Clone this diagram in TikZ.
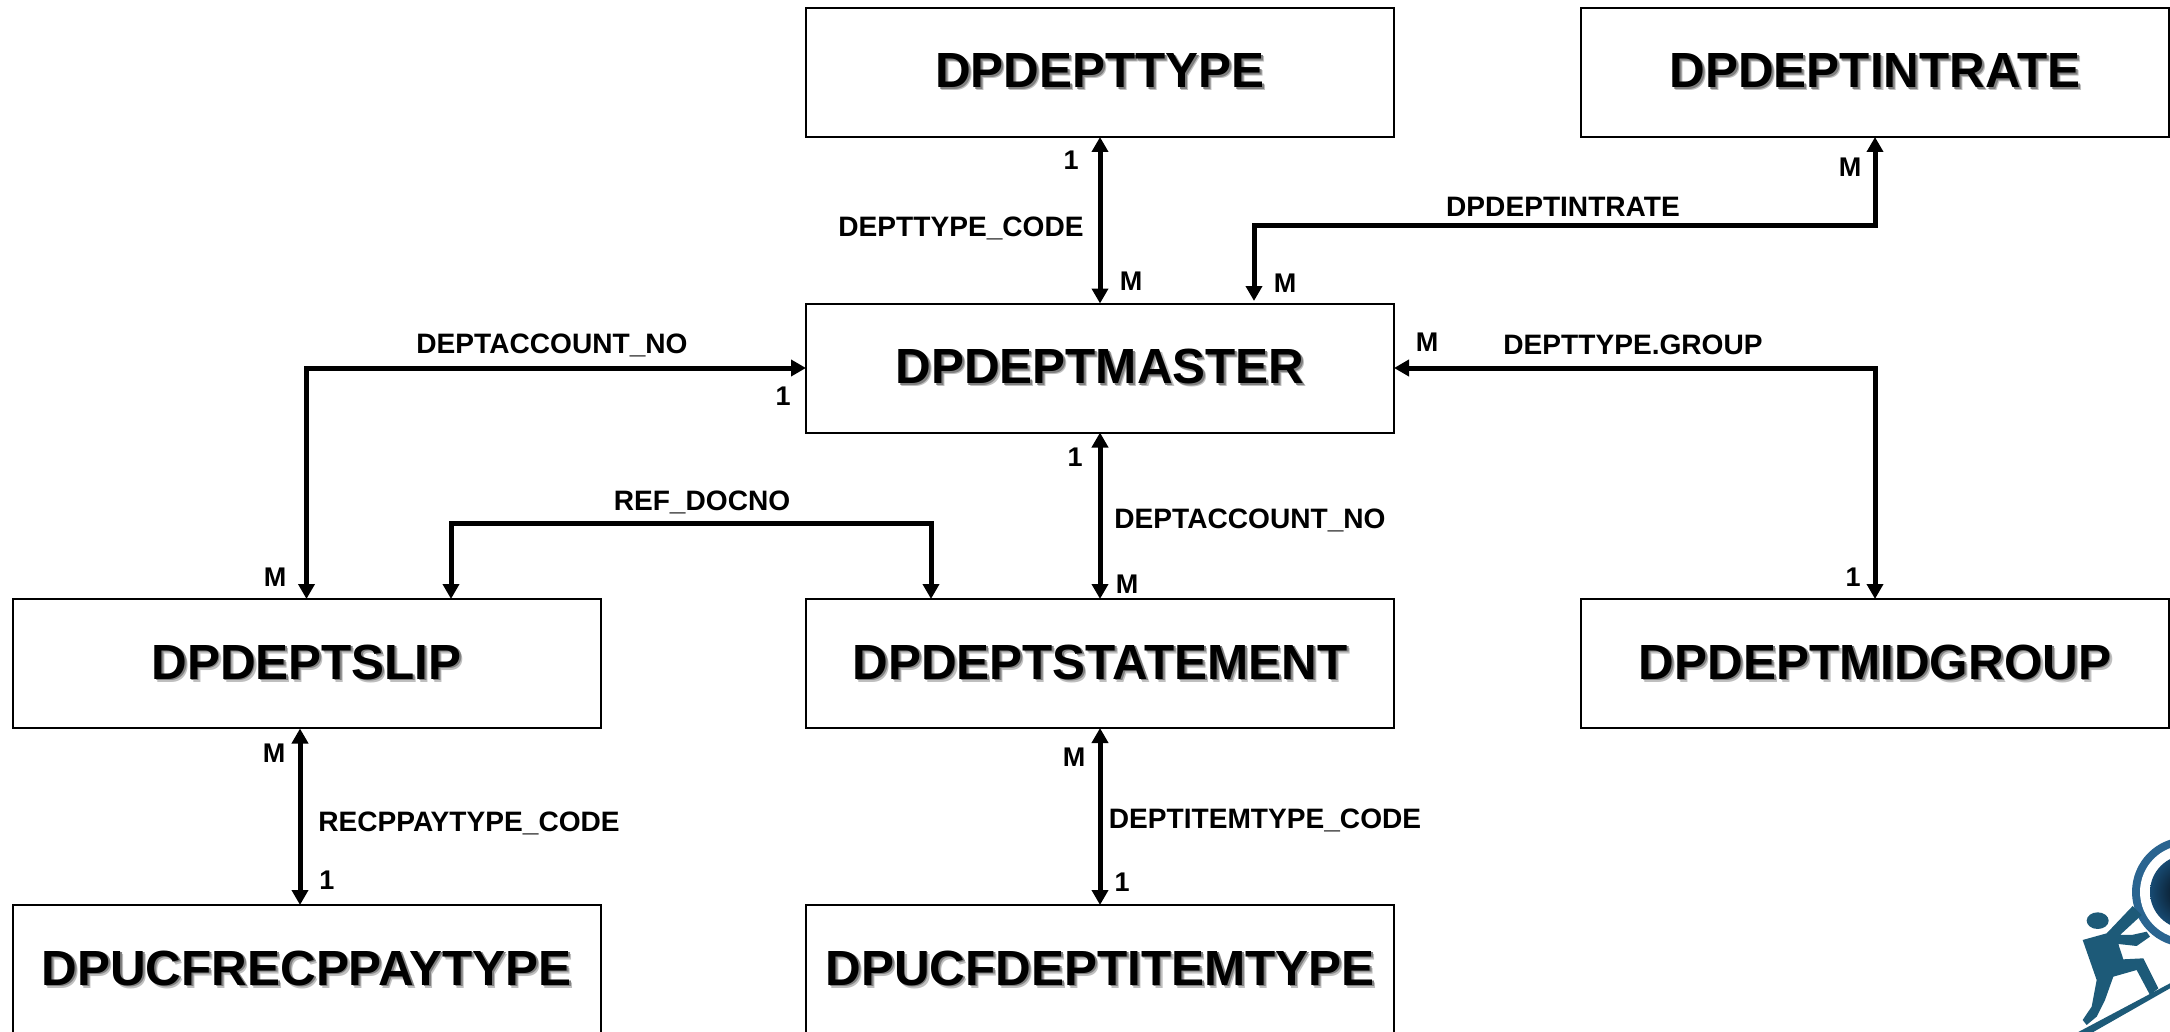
\documentclass[tikz,border=0pt]{standalone}
\usepackage{fontspec}
\setmainfont{Liberation Sans}
\usetikzlibrary{arrows.meta,shadings}
\definecolor{manblue}{HTML}{1D5A78}
\definecolor{ringblue}{HTML}{2A6490}
\definecolor{discdark}{HTML}{03070D}
\definecolor{discblue}{HTML}{174A72}
\newcommand{\shtext}[1]{\raisebox{-2.4pt}{\makebox[0pt][l]{\hspace{3pt}\raisebox{-3pt}{\textcolor{black!25}{#1}}}\makebox[0pt][l]{\hspace{1.8pt}\raisebox{-1.8pt}{\textcolor{black!50}{#1}}}#1}}
\tikzset{
  tbl/.style={draw=black,line width=2pt,fill=white,minimum width=588pt,minimum height=129pt,inner sep=0pt,outer sep=0pt,font=\fontsize{49.4}{50}\bfseries\selectfont},
  lbl/.style={inner sep=0pt,font=\fontsize{28.1}{28}\bfseries\selectfont},
  card/.style={inner sep=0pt,font=\fontsize{27}{27}\bfseries\selectfont},
  both/.style={line width=5pt,{Triangle[length=15pt,width=16pt]}-{Triangle[length=15pt,width=16pt]}},
}
\begin{document}
\begin{tikzpicture}[x=1pt,y=-1pt]
\useasboundingbox (0,0) rectangle (2170,1032);
\node[tbl] (type) at (1100,72.5) {\shtext{DPDEPTTYPE}};
\node[tbl] (intrate) at (1875,72.5) {\shtext{DPDEPTINTRATE}};
\node[tbl] (master) at (1100,368) {\shtext{DPDEPTMASTER}};
\node[tbl] (slip) at (306.5,663.5) {\shtext{DPDEPTSLIP}};
\node[tbl] (stmt) at (1100,663.5) {\shtext{DPDEPTSTATEMENT}};
\node[tbl] (midgroup) at (1875,663.5) {\shtext{DPDEPTMIDGROUP}};
\begin{scope}
\clip (0,0) rectangle (2170,1032);
\node[tbl] (recp) at (306.5,969.5) {\shtext{DPUCFRECPPAYTYPE}};
\node[tbl] (item) at (1100,969.5) {\shtext{DPUCFDEPTITEMTYPE}};
\end{scope}
% named free ends
\coordinate (ki) at (1254,226);
\coordinate (kit) at (1254,301);
\coordinate (rl) at (451,523);
\coordinate (rr) at (931,523);
\coordinate (rlb) at (451,599);
\coordinate (rrb) at (931,599);
\coordinate (srtop) at (300,728.5);
\coordinate (srbot) at (300,905);
\draw[both] (type.south) -- (master.north);
\draw[both] (master.south) -- (stmt.north);
\draw[both] (stmt.south) -- (item.north);
\draw[both] (srtop) -- (srbot);
\draw[both,line join=miter] (kit) -- (ki) -| (intrate.south);
\draw[both,line join=miter] (slip.north) |- (master.west);
\draw[both,line join=miter] (midgroup.north) |- (master.east);
\draw[both,line join=miter] (rlb) -- (rl) -- (rr) -- (rrb);
% labels
\node[lbl] (l1) at (961,228.5) {DEPTTYPE\_CODE};
\node[lbl] (l2) at (1563,207) {DPDEPTINTRATE};
\node[lbl] (l3) at (552,345) {DEPTACCOUNT\_NO};
\node[lbl] (l4) at (1633,345) {DEPTTYPE.GROUP};
\node[lbl] (l5) at (1250,520.5) {DEPTACCOUNT\_NO};
\node[lbl] (l6) at (702,502) {REF\_DOCNO};
\node[lbl] (l7) at (469,823) {RECPPAYTYPE\_CODE};
\node[lbl] (l8) at (1265,820) {DEPTITEMTYPE\_CODE};
\node[card] (c1) at (1071,160) {1};
\node[card] (c2) at (1131,281) {M};
\node[card] (c3) at (1285,283) {M};
\node[card] (c4) at (1850,167) {M};
\node[card] (c5) at (783,396) {1};
\node[card] (c6) at (1427,342) {M};
\node[card] (c7) at (1075,457) {1};
\node[card] (c8) at (275,577) {M};
\node[card] (c9) at (1127,584) {M};
\node[card] (c10) at (1853,577) {1};
\node[card] (c11) at (274,753) {M};
\node[card] (c12) at (327,880) {1};
\node[card] (c13) at (1074,757) {M};
\node[card] (c14) at (1122,882) {1};
% logo
\begin{scope}
\clip (1950,820) rectangle (2170,1032);
\fill[ringblue] (2187,892) circle (55);
\fill[white] (2187,892) circle (47);
\shade[inner color=discdark,outer color=discblue] (2187,892) circle (37);
\begin{scope}[shift={(1950,820)},x=0.3333pt,y=-0.3333pt]
\fill[manblue] (443,302) ellipse (33 and 25);
\fill[manblue] (398,360) -- (470,340) -- (548,258) -- (575,285) -- (510,345) -- (545,345) -- (590,335) -- (600,350) -- (560,378) -- (505,372) -- (520,418) -- (580,415) -- (625,505) -- (600,525) -- (560,450) -- (490,470) -- (465,540) -- (440,590) -- (410,615) -- (398,600) -- (425,560) -- (440,480) -- cycle;
\fill[manblue] (385,636) -- (660,490) -- (660,505) -- (430,636) -- cycle;
\end{scope}
\end{scope}
\end{tikzpicture}
\end{document}
